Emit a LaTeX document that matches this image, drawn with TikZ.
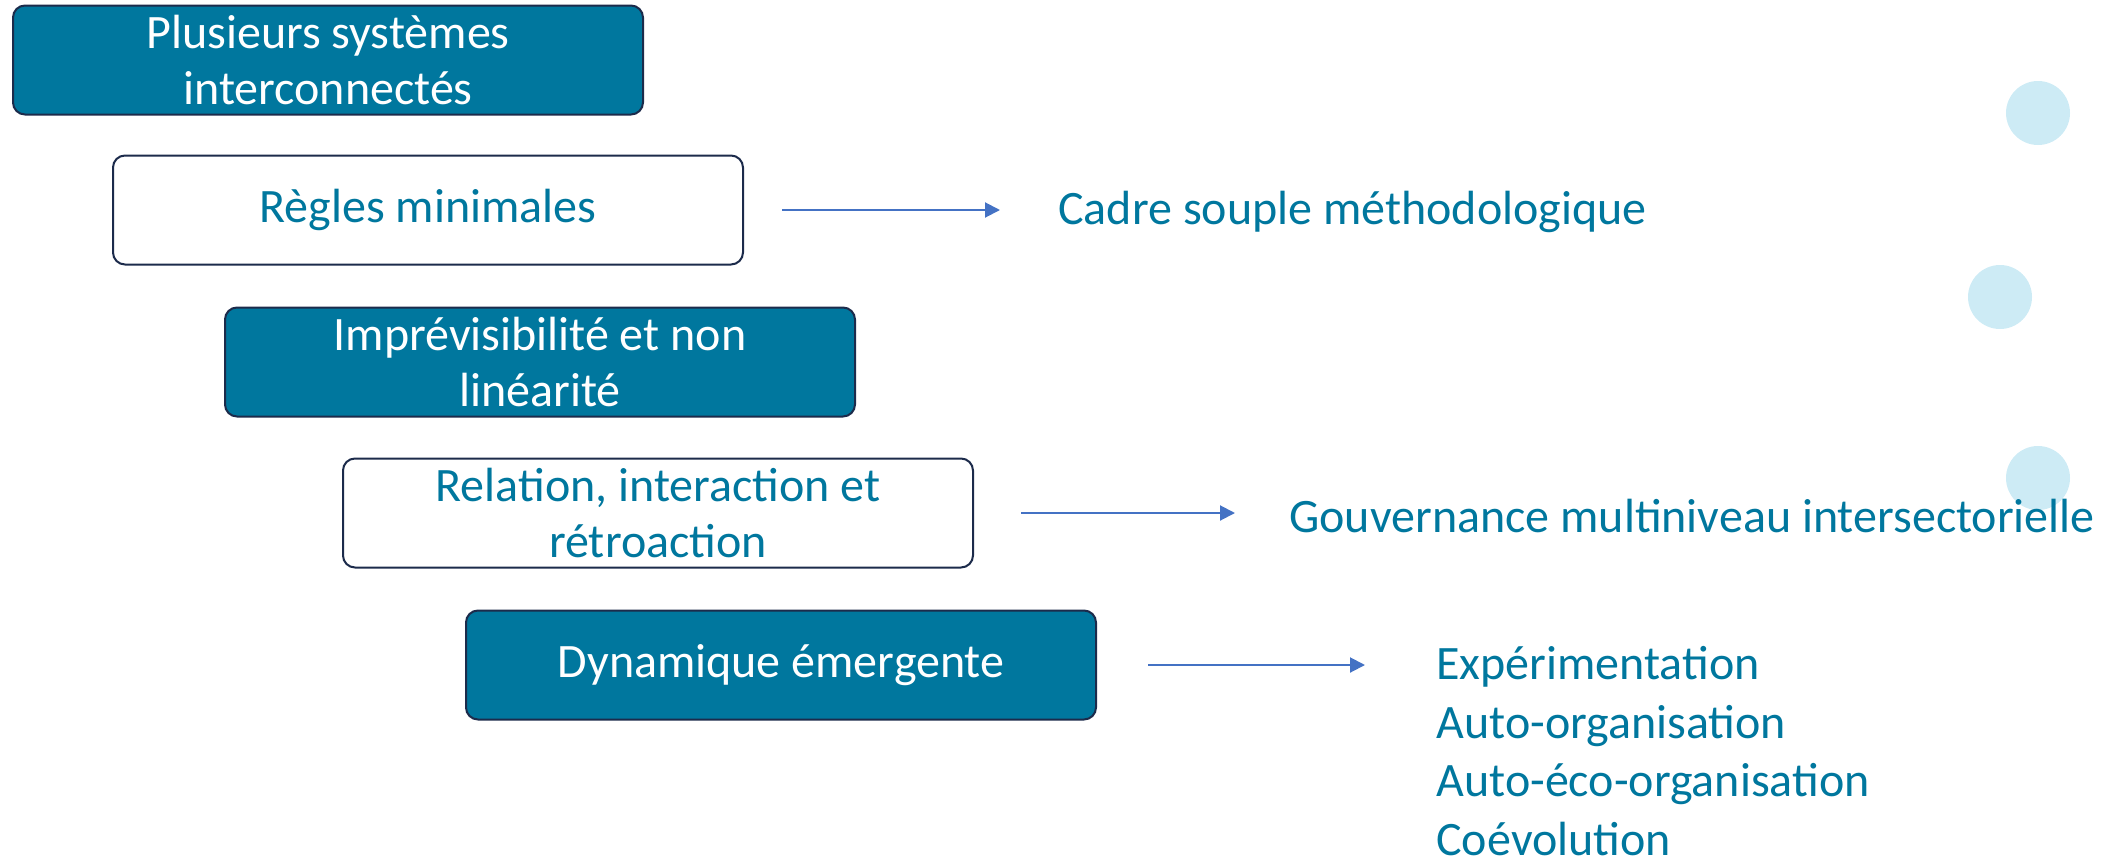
\documentclass[tikz,border=0pt]{standalone}
\usepackage{fontspec}
\setmainfont{Carlito}
\usetikzlibrary{arrows.meta}
\definecolor{petrole}{HTML}{00779E}
\definecolor{encre}{HTML}{1C2B4B}
\definecolor{fleche}{HTML}{4472C4}
\definecolor{bulle}{HTML}{CDEBF5}
\begin{document}
\begin{tikzpicture}[x=0.5pt,y=-0.5pt,
  bloc/.style={draw=encre,line width=1pt,rounded corners=6pt,minimum width=315pt,minimum height=54.5pt,
    inner sep=0pt,align=center,font=\fontsize{24}{28}\selectfont},
  plein/.style={bloc,fill=petrole,text=white},
  vide/.style={bloc,fill=white,text=petrole},
  sortie/.style={text=petrole,inner sep=0pt,anchor=west,align=left,font=\fontsize{24}{29.3}\selectfont},
  lien/.style={draw=fleche,line width=1pt,-{Triangle[length=7.5pt,width=7.5pt]}}]
\useasboundingbox (0,0) rectangle (2101,857);
% bulles
\fill[bulle] (2038,113) circle (16pt);
\fill[bulle] (2000,297) circle (16pt);
\fill[bulle] (2038,478) circle (16pt);

\node[plein] (systemes) at (328,60) {Plusieurs systèmes\\interconnectés};
\node[vide] (regles) at (428,210) {Règles minimales};
\node[plein] (imprevu) at (540,362) {Imprévisibilité et non\\linéarité};
\node[vide] (relation) at (658,513) {Relation, interaction et\\rétroaction};
\node[plein] (dynamique) at (781,665) {Dynamique émergente};

\node[sortie] (cadre) at (1058,212) {Cadre souple méthodologique};
\node[sortie] (gouvernance) at (1289,516) {Gouvernance multiniveau intersectorielle};
\node[sortie,anchor=north west] (pratiques) at (1436,646) {Expérimentation\\Auto-organisation\\Auto-éco-organisation\\Coévolution};

\draw[lien,shorten <=19pt,shorten >=29pt] (regles.east) -- (regles.east -| cadre.west);
\draw[lien,shorten <=23.5pt,shorten >=27pt] (relation.east) -- (relation.east -| gouvernance.west);
\draw[lien,shorten <=25.5pt,shorten >=35.5pt] (dynamique.east) -- (dynamique.east -| pratiques.west);
\end{tikzpicture}
\end{document}
